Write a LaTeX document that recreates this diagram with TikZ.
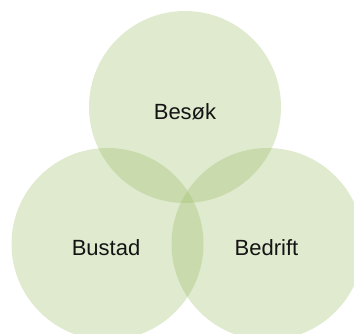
\documentclass[tikz,border=0pt]{standalone}
\usepackage{fontspec}
\setmainfont{Liberation Sans}
\definecolor{venn}{RGB}{150,185,95}
\definecolor{ink}{RGB}{20,20,20}
\begin{document}
\begin{tikzpicture}[x=1pt,y=-1pt,
  set/.style={circle,fill=venn,fill opacity=0.3,minimum size=192pt,inner sep=0pt},
  lab/.style={text=ink,font=\fontsize{22}{26}\selectfont,inner sep=0pt}]
\useasboundingbox (0,0) rectangle (354,334);
\node[set] (top) at (185,107) {};
\node[set] (left) at (107.5,244) {};
\node[set] (right) at (267.5,244) {};
\node[lab] (tl) at (185,112) {Besøk};
\node[lab] (ll) at (106,248) {Bustad};
\node[lab] (rl) at (266.5,248) {Bedrift};
\end{tikzpicture}
\end{document}
